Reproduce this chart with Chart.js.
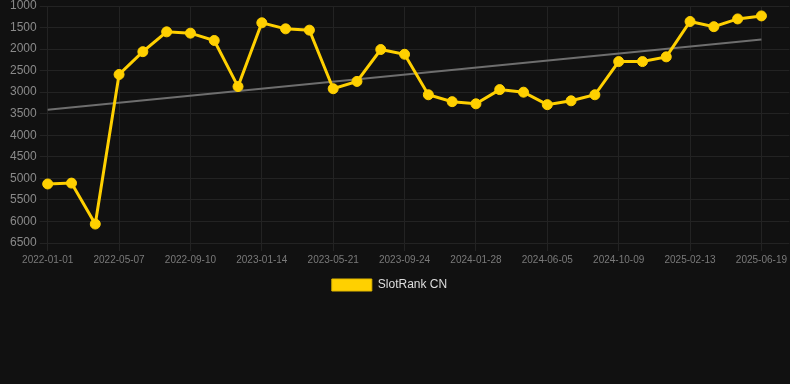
<!DOCTYPE html>
<html>
<head>
<meta charset="utf-8">
<script src="https://cdn.jsdelivr.net/npm/chart.js@4/dist/chart.umd.min.js"></script>
<style>
  html, body { margin: 0; padding: 0; background: #111111; }
  #wrap { position: relative; width: 790px; height: 301px; }
</style>
</head>
<body>
<div id="wrap"><canvas id="c"></canvas></div>
<script>
const categories = [
  '2022-01-01','2022-02-12','2022-03-26','2022-05-07','2022-06-18','2022-07-30',
  '2022-09-10','2022-10-22','2022-12-03','2023-01-14','2023-02-25','2023-04-08',
  '2023-05-21','2023-07-02','2023-08-13','2023-09-24','2023-11-05','2023-12-17',
  '2024-01-28','2024-03-11','2024-04-23','2024-06-05','2024-07-17','2024-08-28',
  '2024-10-09','2024-11-20','2025-01-01','2025-02-13','2025-03-27','2025-05-08',
  '2025-06-19'
];
const slotRankCN = [
  5130, 5110, 6060, 2590, 2060, 1600, 1630, 1800, 2870, 1390, 1530, 1560,
  2920, 2750, 2010, 2120, 3060, 3220, 3270, 2940, 3000, 3290, 3200, 3060,
  2290, 2290, 2180, 1360, 1480, 1300, 1230
];
const trendStart = 3410;
const trendEnd = 1780;
const yTicks = { min: 1000, max: 6500, step: 500 };

const gridColor = '#232323';
const trendData = [
  { x: categories[0], y: trendStart },
  { x: categories[categories.length - 1], y: trendEnd }
];

const legendShift = {
  id: 'legendShift',
  afterLayout(chart) {
    const l = chart.legend;
    if (l) { l.left -= 9; l.right -= 9; }
  }
};

new Chart(document.getElementById('c'), {
  type: 'line',
  data: {
    labels: categories,
    datasets: [
      {
        label: 'SlotRank CN',
        data: slotRankCN,
        borderColor: '#ffd000',
        backgroundColor: '#ffd000',
        borderWidth: 3,
        pointRadius: 5,
        pointBorderWidth: 1,
        pointBackgroundColor: '#ffd000',
        pointBorderColor: '#ffd000',
        tension: 0
      },
      {
        label: 'trend',
        data: trendData,
        borderColor: '#6e6e6e',
        backgroundColor: '#6e6e6e',
        borderWidth: 2,
        pointRadius: 0,
        spanGaps: true
      }
    ]
  },
  plugins: [legendShift],
  options: {
    responsive: true,
    maintainAspectRatio: false,
    animation: false,
    layout: { padding: { left: 7 } },
    plugins: {
      legend: {
        position: 'bottom',
        labels: {
          color: '#dddddd',
          font: { size: 12 },
          boxWidth: 40,
          generateLabels: (chart) =>
            Chart.defaults.plugins.legend.labels.generateLabels(chart)
              .filter(item => item.text !== 'trend')
              .map(item => Object.assign(item, { lineWidth: 1, strokeStyle: '#e0b800' }))
        }
      },
      tooltip: { enabled: false }
    },
    scales: {
      x: {
        grid: { color: gridColor, tickLength: 8 },
        border: { color: gridColor },
        ticks: { color: '#7a7a7a', font: { size: 10 }, maxRotation: 0, autoSkip: true }
      },
      y: {
        reverse: true,
        min: yTicks.min,
        max: yTicks.max,
        grid: { color: gridColor, tickLength: 8 },
        border: { color: gridColor },
        ticks: {
          color: '#8a8a8a',
          font: { size: 12, lineHeight: 0.5 },
          stepSize: yTicks.step,
          callback: (v) => String(v)
        }
      },
      y2: {
        position: 'right',
        reverse: true,
        min: yTicks.min,
        max: yTicks.max,
        grid: { color: gridColor, drawOnChartArea: false, tickLength: 28 },
        border: { display: false },
        ticks: { display: false, stepSize: yTicks.step }
      }
    }
  }
});
</script>
</body>
</html>
